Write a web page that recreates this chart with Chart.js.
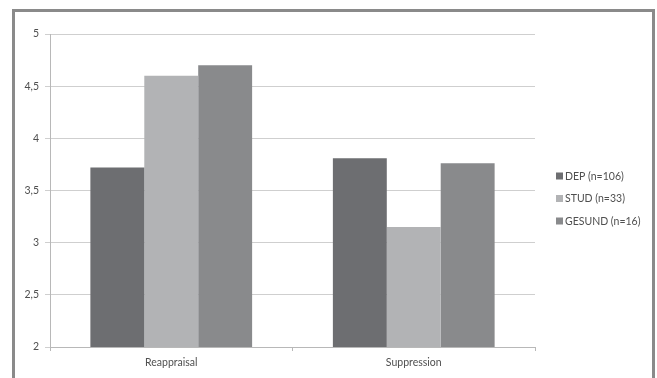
<!DOCTYPE html>
<html>
<head>
<meta charset="utf-8">
<script src="https://cdn.jsdelivr.net/npm/chart.js@4"></script>
<style>
  html, body { margin: 0; padding: 0; background: #ffffff; }
  body { width: 657px; height: 378px; overflow: hidden; position: relative; }
  #frame {
    position: absolute; left: 12px; top: 9px; width: 637px; height: 400px;
    border: 3px solid #8a8a8a; pointer-events: none; box-sizing: content-box;
  }
  #wrap { position: absolute; left: 0; top: 0; width: 657px; height: 378px; }
</style>
</head>
<body>
<div id="wrap"><canvas id="chart" width="657" height="378"></canvas></div>
<div id="frame"></div>
<script>
// Emotion regulation scores per group
const categories = ['Reappraisal', 'Suppression'];
const seriesNames = ['DEP (n=106)', 'STUD (n=33)', 'GESUND (n=16)'];
const depValues = [3.72, 3.81];
const studValues = [4.60, 3.15];
const gesundValues = [4.70, 3.76];
const yTicks = [2, 2.5, 3, 3.5, 4, 4.5, 5];

const seriesColors = ['#6d6e71', '#b2b3b5', '#898a8c'];
const textColor = '#4f4f4f';
const fontFamily = 'Lato, "Open Sans", sans-serif';

// Legend drawn to the right of the plot, one square marker per series
const sideLegend = {
  id: 'sideLegend',
  afterDraw(chart) {
    const ctx = chart.ctx;
    ctx.save();
    ctx.font = '10.5px ' + fontFamily;
    ctx.textBaseline = 'middle';
    ctx.textAlign = 'left';
    chart.data.datasets.forEach((ds, i) => {
      const y = 176 + i * 22.5;
      ctx.fillStyle = ds.backgroundColor;
      ctx.fillRect(556, y - 3.5, 7, 7);
      ctx.fillStyle = textColor;
      ctx.fillText(ds.label, 565, y + 0.5);
    });
    ctx.restore();
  }
};

new Chart(document.getElementById('chart'), {
  type: 'bar',
  data: {
    labels: categories,
    datasets: [
      { label: seriesNames[0], data: depValues, backgroundColor: seriesColors[0] },
      { label: seriesNames[1], data: studValues, backgroundColor: seriesColors[1] },
      { label: seriesNames[2], data: gesundValues, backgroundColor: seriesColors[2] }
    ]
  },
  options: {
    responsive: false,
    animation: false,
    layout: { padding: { left: 12, right: 122, top: 34, bottom: 0 } },
    datasets: { bar: { categoryPercentage: 0.667, barPercentage: 1.0, borderWidth: 0 } },
    plugins: { legend: { display: false }, tooltip: { enabled: false } },
    scales: {
      x: {
        offset: true,
        grid: { display: true, drawOnChartArea: false, drawTicks: true, tickLength: 4, color: '#b8b8b8', offset: true },
        border: { display: true, color: '#b8b8b8', width: 1 },
        ticks: { color: textColor, font: { family: fontFamily, size: 10.5 }, padding: 5 },
        afterFit(s) { s.height = 31; }
      },
      y: {
        min: 2,
        max: 5,
        afterBuildTicks(s) { s.ticks = yTicks.map(v => ({ value: v })); },
        grid: { color: '#cfcfcf', tickLength: 5, drawTicks: true },
        border: { display: true, color: '#b8b8b8', width: 1 },
        ticks: {
          color: textColor,
          font: { family: fontFamily, size: 10.5 },
          padding: 6,
          callback: v => String(v).replace('.', ',')
        },
        afterFit(s) { s.width = 38; }
      }
    }
  },
  plugins: [sideLegend]
});
</script>
</body>
</html>
